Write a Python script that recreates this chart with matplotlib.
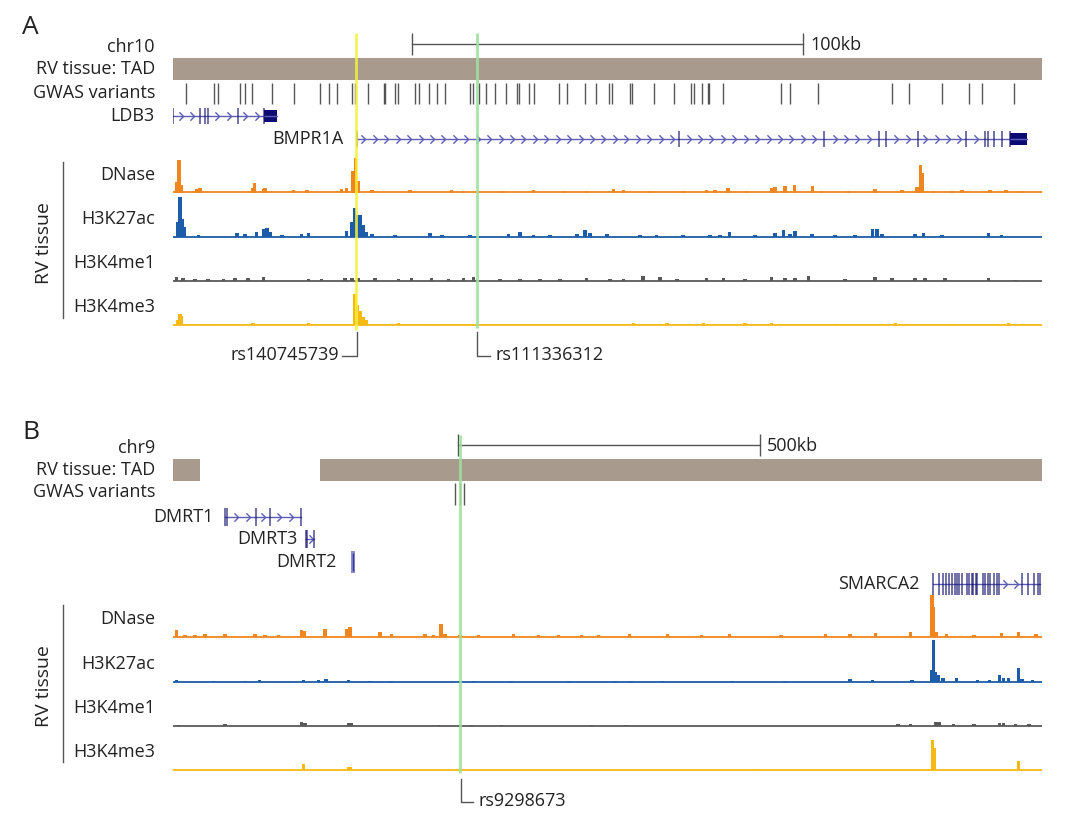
import numpy as np
import matplotlib
matplotlib.use('Agg')
from matplotlib import pyplot as plt
from matplotlib.path import Path
from matplotlib.patches import Rectangle

plt.rcParams['font.family'] = ['Open Sans', 'DejaVu Sans']

# ---------------- data (positions in kb from the left edge of each window) ----
# panel A : chr10
a_span = 222.1
a_scale = (61.1, 161.1)
a_yellow = 46.7
a_green = 77.7
a_tads = [(0.0, 222.1)]
a_gwas = [3.3, 10.5, 11.4, 17.1, 18.5, 20.3, 25.3, 31.0, 37.5, 39.8, 41.9, 45.7, 46.4,
          49.8, 53.8, 54.1, 56.8, 57.4, 61.9, 63.0, 65.4, 67.4, 69.5, 75.9, 76.6, 78.1,
          80.1, 82.4, 85.2, 87.8, 88.5, 90.9, 92.2, 98.6, 100.7, 105.3, 108.1, 111.4,
          112.1, 116.7, 117.4, 122.9, 128.0, 132.5, 133.1, 135.2, 136.8, 137.1, 140.5,
          155.4, 157.6, 164.9, 183.8, 188.0, 196.6, 203.4, 206.7, 214.9]
ldb3_exons = [0.05, 6.8, 8.3, 8.9, 16.7, 23.2]
ldb3_utr = (23.2, 26.5)
bmpr1a_exons = [46.9, 129.3, 166.4, 180.5, 182.3, 190.4, 202.8, 207.5, 208.3, 209.8,
                211.8, 213.9]
bmpr1a_utr = (213.9, 218.2)

a_dnase = [(0.9, 11), (1.6, 33), (2.2, 8), (6.1, 4), (6.9, 5), (20.3, 5), (20.8, 10),
           (23.1, 4), (23.5, 5), (30.8, 3), (34.2, 3), (43.1, 4), (44.4, 5), (45.9, 22),
           (46.7, 35), (47.3, 12), (50.8, 3), (60.6, 3), (71.2, 3), (74.2, 2), (84.4, 2),
           (92.1, 3), (99.8, 2), (105.7, 2), (112.6, 4), (115.1, 3), (121.9, 2),
           (130.4, 2), (136.4, 3), (138.5, 3), (141.9, 5), (146.6, 2), (153.0, 5),
           (153.9, 6), (156.4, 7), (158.8, 8), (163.4, 7), (165.8, 2), (172.6, 2),
           (179.4, 4), (186.3, 3), (190.1, 6), (191.1, 28), (191.5, 20), (194.4, 2),
           (199.1, 2), (201.6, 3), (208.8, 3), (212.9, 3), (217.0, 2)]
a_h3k27ac = [(1.2, 15), (1.8, 40), (2.4, 18), (2.9, 10), (6.5, 2), (16.3, 4), (18.4, 3),
             (21.4, 5), (23.1, 8), (24.0, 9), (24.8, 5), (27.8, 2), (32.9, 3), (34.6, 4),
             (44.4, 6), (45.7, 15), (46.4, 29), (47.0, 22), (47.8, 22), (48.6, 12),
             (49.5, 5), (50.8, 3), (56.7, 2), (65.7, 4), (68.7, 2), (75.9, 2), (85.7, 3),
             (88.7, 5), (92.1, 2), (96.4, 2), (103.2, 3), (105.3, 7), (106.6, 4),
             (110.9, 3), (119.4, 2), (123.6, 2), (130.4, 2), (137.3, 2), (139.8, 2),
             (142.2, 5), (148.8, 2), (153.9, 4), (156.0, 7), (157.7, 3), (159.0, 6),
             (163.3, 3), (169.2, 2), (174.3, 2), (178.8, 8), (179.9, 8), (181.2, 3),
             (189.7, 3), (191.8, 4), (196.5, 2), (208.4, 4), (211.8, 2)]
a_h3k4me1 = [(0.9, 4), (2.6, 3), (5.6, 2), (9.0, 2), (12.9, 2), (15.8, 3), (19.2, 3),
             (23.1, 4), (34.6, 2), (38.0, 2), (44.0, 3), (45.7, 3), (47.4, 3), (51.6, 3),
             (57.6, 2), (61.0, 3), (66.1, 3), (70.4, 2), (74.2, 3), (76.8, 4), (83.6, 2),
             (88.7, 2), (93.8, 2), (98.9, 2), (105.7, 3), (111.7, 2), (115.1, 2),
             (120.1, 5), (124.5, 4), (128.8, 2), (136.4, 3), (140.7, 3), (146.2, 2),
             (153.0, 4), (156.4, 3), (159.0, 3), (162.4, 5), (171.8, 2), (179.4, 4),
             (183.7, 3), (189.7, 3), (192.2, 3), (197.3, 3), (208.4, 3), (215.2, 1)]
a_h3k4me3 = [(1.2, 5), (1.8, 11), (2.2, 9), (9.0, 1), (20.5, 2), (34.6, 2), (46.4, 31),
             (46.7, 28), (47.2, 20), (47.8, 14), (48.6, 8), (49.5, 5), (57.6, 2),
             (66.1, 1), (117.7, 2), (126.2, 2), (135.6, 2), (146.2, 2), (153.0, 2),
             (169.2, 1), (184.6, 2), (199.1, 1), (213.5, 2)]

# panel B : chr9
b_span = 1438.7
b_scale = (471.9, 971.9)
b_green = 474.7
b_tads = [(0.0, 44.2), (243.7, 1438.7)]
b_gwas = [467.2, 474.7, 481.5]
dmrt1_exons = [85.3, 89.9, 137.2, 159.9, 212.4]
dmrt3_exons = [219.9, 221.5, 234.1]
dmrt2_box = (294.0, 300.8)
smarca2_exons = [1257.6, 1269.0, 1274.7, 1279.1, 1284.9, 1288.9, 1294.7, 1298.7, 1302.0,
                 1306.0, 1314.6, 1318.5, 1322.0, 1324.8, 1328.8, 1331.6, 1340.2, 1344.7,
                 1348.8, 1353.3, 1359.1, 1363.6, 1367.5, 1405.8, 1416.1, 1425.8, 1431.5,
                 1435.4]

b_dnase = [(6.1, 7), (19.9, 2), (36.4, 2), (53.0, 3), (86.1, 3), (135.8, 3), (152.3, 2),
           (174.3, 2), (213.1, 7), (217.4, 6), (251.7, 8), (287.6, 8), (293.0, 10),
           (342.7, 5), (362.1, 3), (417.2, 3), (431.0, 2), (443.7, 13), (450.3, 3),
           (475.2, 2), (505.5, 2), (563.4, 3), (604.8, 2), (637.9, 2), (676.6, 2),
           (704.5, 2), (755.8, 3), (818.5, 3), (875.5, 2), (921.2, 3), (1006.6, 2),
           (1080.8, 3), (1120.7, 3), (1163.4, 4), (1220.5, 5), (1256.5, 42),
           (1259.3, 30), (1263.2, 5), (1280.3, 3), (1326.0, 2), (1371.5, 4),
           (1400.0, 5), (1428.6, 3)]
b_h3k27ac = [(6.1, 2), (66.7, 1), (119.2, 1), (142.9, 2), (215.7, 2), (240.6, 2),
             (253.3, 3), (290.2, 2), (326.2, 1), (362.1, 1), (497.2, 1), (560.8, 1),
             (654.5, 1), (733.1, 1), (758.8, 1), (809.9, 1), (926.8, 1), (1012.4, 1),
             (1120.7, 3), (1157.8, 2), (1223.3, 2), (1256.5, 12), (1258.6, 42),
             (1262.1, 10), (1267.9, 7), (1274.7, 4), (1297.5, 4), (1331.6, 2),
             (1351.7, 2), (1368.7, 7), (1374.5, 4), (1382.9, 4), (1400.0, 14),
             (1405.8, 3), (1422.8, 2)]
b_h3k4me1 = [(8.8, 1), (86.1, 2), (213.1, 4), (218.5, 3), (290.2, 3), (295.9, 3),
             (439.2, 1), (494.5, 1), (544.2, 1), (693.2, 1), (750.2, 1), (1200.5, 2),
             (1220.5, 2), (1263.2, 4), (1269.0, 4), (1291.7, 2), (1326.0, 2), (1368.7, 3),
             (1374.5, 3), (1394.4, 2), (1417.2, 2)]
b_h3k4me3 = [(215.7, 6), (290.2, 3), (293.0, 3), (961.1, 1), (1257.6, 30), (1260.4, 22),
             (1400.0, 9)]

track_names = ['DNase', 'H3K27ac', 'H3K4me1', 'H3K4me3']
track_colors = ['#f0861f', '#1c5ca8', '#595959', '#f7b916']

# ---------------- layout (figure pixels) ----------------
W, H = 1080, 821
X0, X1 = 173, 1042
FS = 13
tad_col = '#a89a8c'
intron_col = '#5d5db8'
exon_col = '#14146e'
chev = Path([(-0.5, 1), (0.5, 0), (-0.5, -1)], [Path.MOVETO, Path.LINETO, Path.LINETO])

fig = plt.figure(figsize=(W / 100, H / 100), dpi=100)


def make_ax(top, bottom, span):
    ax = fig.add_axes([X0 / W, 1 - bottom / H, (X1 - X0) / W, (bottom - top) / H])
    ax.set_xlim(0, span)
    ax.set_ylim(bottom, top)
    ax.axis('off')
    return ax


def fx(px):
    return (px - X0) / (X1 - X0)


def label(ax, px, y, s, ha='right', size=FS, **kw):
    ax.text(fx(px), y, s, transform=ax.get_yaxis_transform(), ha=ha, va='center',
            fontsize=size, color='#222222', clip_on=False, **kw)


def signal(ax, base, peaks, color, w, span):
    ax.plot([0, span], [base, base], color=color, lw=1.3, solid_capstyle='butt')
    xs = [p[0] for p in peaks]
    hs = [-p[1] for p in peaks]
    ax.bar(xs, hs, bottom=base, width=w, color=color, linewidth=0)


def gene(ax, y, exons, step, tall=8, utr=None, ms=6):
    end = utr[1] if utr else exons[-1]
    ax.plot([exons[0], end], [y, y], color=intron_col, lw=1.0)
    # strand chevrons only inside introns that have room for them
    cx = []
    for g0, g1 in zip(exons[:-1], exons[1:]):
        n = int((g1 - g0) / step)
        if n >= 1:
            pad = (g1 - g0 - (n - 1) * step) / 2
            cx.extend(g0 + pad + step * i for i in range(n))
    ax.plot(cx, [y] * len(cx), ls='none', marker=chev, ms=ms, mfc='none',
            mec=intron_col, mew=1.0)
    ax.vlines(exons, y - tall, y + tall, color=exon_col, lw=1.2, alpha=0.7)
    if utr:
        ax.add_patch(Rectangle((utr[0], y - 6), utr[1] - utr[0], 12, color='#0b0b73', lw=0))


def header(ax, ys, span, scale, scale_txt, tads, gwas, gwas_y, letter, letter_y, chrom):
    label(ax, 22, letter_y, letter, ha='left', size=19)
    label(ax, 155, ys[0], chrom)
    label(ax, 155, ys[1], 'RV tissue: TAD')
    label(ax, 155, ys[2], 'GWAS variants')
    ax.plot(scale, [ys[0] - 3] * 2, color='#555555', lw=1.0)
    ax.vlines(scale, ys[0] - 14, ys[0] + 8, color='#555555', lw=1.0)
    ax.text(scale[1] + span * 0.008, ys[0] - 2, scale_txt, ha='left', va='center',
            fontsize=FS, color='#222222')
    for t0, t1 in tads:
        ax.add_patch(Rectangle((t0, ys[1] - 11), t1 - t0, 22, color=tad_col, lw=0))
    ax.vlines(gwas, gwas_y[0], gwas_y[1], color='#3a3a3a', lw=1.0, alpha=0.85)


def tracks(ax, bases, data, w, span, rv_top, rv_bot):
    for base, name, peaks, col in zip(bases, track_names, data, track_colors):
        signal(ax, base, peaks, col, w, span)
        label(ax, 155, base - 18, name)
    ax.plot([fx(63), fx(63)], [rv_top, rv_bot], transform=ax.get_yaxis_transform(),
            color='#555555', lw=1.0, clip_on=False)
    ax.text(fx(44), (rv_top + rv_bot) / 2 + 3, 'RV tissue', rotation=90, ha='center',
            va='center', fontsize=14, color='#222222', transform=ax.get_yaxis_transform(),
            clip_on=False)


# ---------------- panel A ----------------
axA = make_ax(20, 370, a_span)
header(axA, (47, 69, 93), a_span, a_scale, '100kb', a_tads, a_gwas, (83, 104), 'A', 28,
       'chr10')
label(axA, 155, 116, 'LDB3')
gene(axA, 116, ldb3_exons, 3.0, utr=ldb3_utr)
label(axA, 343, 139, 'BMPR1A')
gene(axA, 139, bmpr1a_exons, 2.92, utr=bmpr1a_utr)
tracks(axA, (192.5, 236.7, 280.7, 325), [a_dnase, a_h3k27ac, a_h3k4me1, a_h3k4me3], 0.9,
       a_span, 162, 318)
axA.vlines(a_yellow, 33, 330, color='#f6f23a', lw=2.0, alpha=0.85, zorder=5)
axA.vlines(a_green, 33, 328, color='#9fe09f', lw=2.0, alpha=0.9, zorder=5)
# SNP callouts
axA.plot([a_yellow + 0.3, a_yellow + 0.3, a_yellow - 3.5], [332, 356, 356], color='#555555',
         lw=1.0)
axA.text(a_yellow - 4.3, 355, 'rs140745739', ha='right', va='center', fontsize=FS,
         color='#222222')
axA.plot([a_green, a_green, a_green + 3.3], [332, 356, 356], color='#555555', lw=1.0)
axA.text(a_green + 4.6, 355, 'rs111336312', ha='left', va='center', fontsize=FS,
         color='#222222')

# ---------------- panel B ----------------
axB = make_ax(425, 815, b_span)
header(axB, (448, 470, 492), b_span, b_scale, '500kb', b_tads, b_gwas, (483, 505), 'B', 432,
       'chr9')
label(axB, 214, 517, 'DMRT1')
gene(axB, 517, dmrt1_exons, 20.0, tall=9)
label(axB, 298, 539, 'DMRT3')
gene(axB, 539, dmrt3_exons, 10.0, tall=9)
label(axB, 337, 562, 'DMRT2')
axB.add_patch(Rectangle((dmrt2_box[0], 551), dmrt2_box[1] - dmrt2_box[0], 22,
                        color='#8c8cd0', lw=0))
axB.vlines(sum(dmrt2_box) / 2, 553, 571, color='#3a3a9a', lw=1.0)
label(axB, 920, 584, 'SMARCA2')
gene(axB, 584, smarca2_exons, 18.0, tall=11)
tracks(axB, (637, 681.7, 725.7, 770), [b_dnase, b_h3k27ac, b_h3k4me1, b_h3k4me3], 5.5,
       b_span, 605, 762)
axB.vlines(b_green, 435, 773, color='#9fe09f', lw=2.0, alpha=0.9, zorder=5)
axB.plot([b_green + 2, b_green + 2, b_green + 22], [779, 802, 802], color='#555555', lw=1.0)
axB.text(b_green + 31, 801, 'rs9298673', ha='left', va='center', fontsize=FS,
         color='#222222')

fig.savefig('out.png', dpi=100)
